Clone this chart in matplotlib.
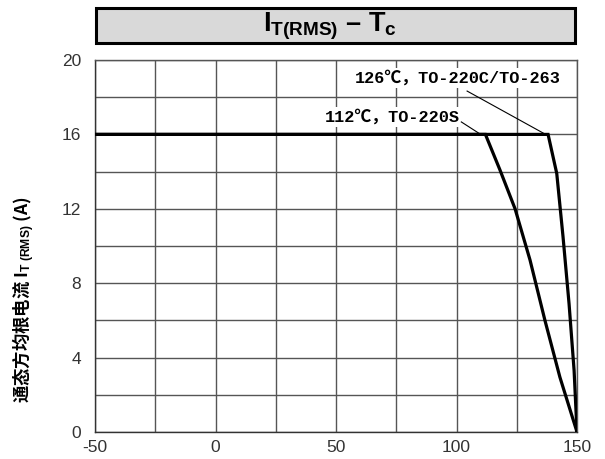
import matplotlib
matplotlib.use("Agg")
import matplotlib.pyplot as plt
from matplotlib.patches import Rectangle
from matplotlib.ticker import MultipleLocator

plt.rcParams['mathtext.fontset'] = 'custom'
plt.rcParams['mathtext.rm'] = 'Liberation Sans'
plt.rcParams['mathtext.bf'] = 'Liberation Sans:bold'
plt.rcParams['mathtext.it'] = 'Liberation Sans:italic'
plt.rcParams['axes.unicode_minus'] = False

# Data
tc_220s = [-50, 112, 118.0, 124.3, 130.5, 136.7, 142.9, 150]
it_220s = [16, 16, 14.1, 12.0, 9.25, 6.0, 2.95, 0]
tc_220c = [-50, 138, 141.6, 144.2, 146.7, 148.8, 150, 150]
it_220c = [16, 16, 13.9, 10.5, 6.9, 3.3, 0, 1.5]

x_ticks = [-50, 0, 50, 100, 150]
y_ticks = [0, 4, 8, 12, 16, 20]
label_220c = "126℃，TO-220C/TO-263"
label_220s = "112℃，TO-220S"
title = r"$\mathbf{I_{T(RMS)}}$ – $\mathbf{T_c}$"
ylabel = r"通态方均根电流 I$_{\mathbf{T\ (RMS)}}$ (A)"

W, H = 605, 459
fig = plt.figure(figsize=(W / 100, H / 100), dpi=100)
ax = fig.add_axes([95 / W, (H - 432) / H, (577 - 95) / W, (432 - 60) / H])

ax.plot(tc_220s, it_220s, color='black', lw=2.3, solid_joinstyle='miter', zorder=4)
ax.plot(tc_220c, it_220c, color='black', lw=2.3, solid_joinstyle='miter', zorder=4)

ax.set_xlim(-50, 150)
ax.set_ylim(0, 20)
ax.set_xticks(x_ticks)
ax.set_yticks(y_ticks)
ax.xaxis.set_minor_locator(MultipleLocator(25))
ax.yaxis.set_minor_locator(MultipleLocator(2))
ax.grid(True, which='both', color='#555555', lw=1.0)
ax.set_axisbelow(True)
ax.tick_params(which='both', length=0)
ax.tick_params(axis='x', pad=6, labelsize=12.5, labelcolor='#333333')
ax.tick_params(axis='y', pad=10, labelsize=12.5, labelcolor='#333333')
for lab in ax.get_xticklabels() + ax.get_yticklabels():
    lab.set_family('Liberation Sans')
for s in ax.spines.values():
    s.set_color('#555555')
    s.set_linewidth(1.0)
ax.spines['left'].set_color('#333333')
ax.spines['bottom'].set_color('#333333')

mono = ['Liberation Mono', 'Noto Sans CJK SC']
ax.text(100.6, 19.03, label_220c, family=mono, fontsize=12.2, fontweight='bold',
        ha='center', va='center', zorder=5,
        bbox=dict(facecolor='white', edgecolor='none', pad=1.5))
ax.text(73.2, 16.94, label_220s, family=mono, fontsize=12.2, fontweight='bold',
        ha='center', va='center', zorder=5,
        bbox=dict(facecolor='white', edgecolor='none', pad=1.5))
ax.plot([104.4, 136.7], [18.33, 16.02], color='black', lw=0.8, zorder=5)
ax.plot([102.0, 109.8], [16.67, 16.02], color='black', lw=0.8, zorder=5)

fig.text(24 / W, (H - 300) / H, ylabel, rotation=90, ha='center', va='center',
         family='Noto Sans CJK SC', fontweight='bold', fontsize=12.5)

# title box
fig.patches.append(Rectangle((96 / W, (H - 43) / H), (575 - 96) / W, 35 / H,
                             transform=fig.transFigure, facecolor='#d9d9d9',
                             edgecolor='black', lw=2.2))
fig.text(330 / W, (H - 26) / H, title, ha='center', va='center', fontsize=19.5,
         family='Liberation Sans', fontweight='bold')

fig.savefig('out.png', dpi=100)
